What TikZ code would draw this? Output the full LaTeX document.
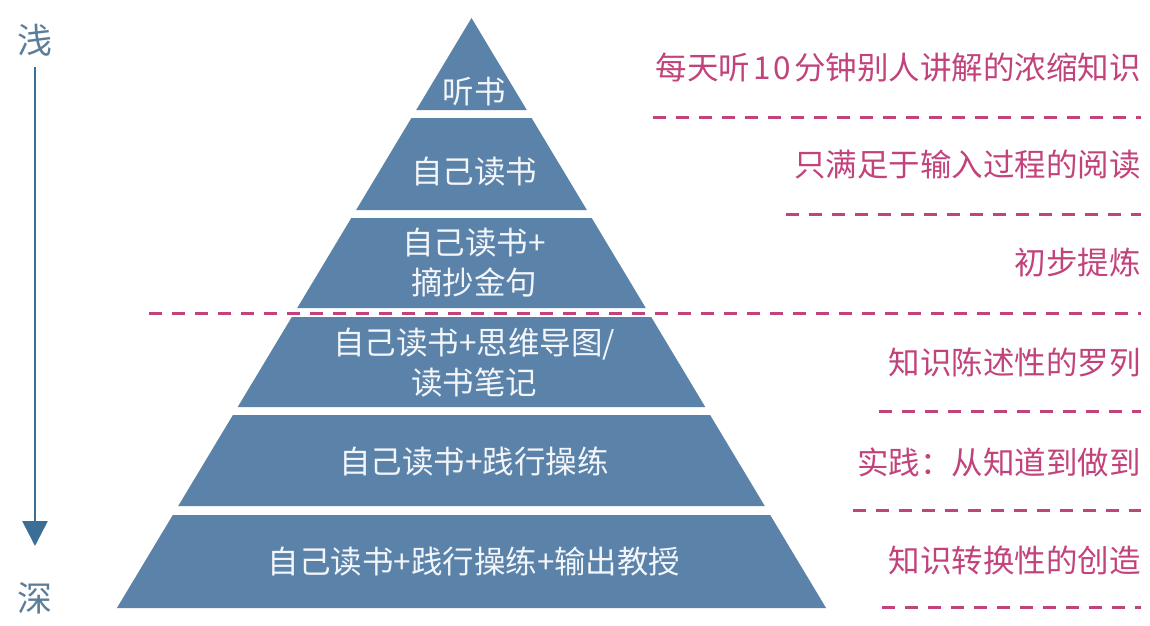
\documentclass[tikz,border=0pt]{standalone}
\usepackage{fontspec}
\setmainfont{Noto Sans CJK SC}
\usetikzlibrary{arrows.meta}
\definecolor{pyr}{HTML}{5B82A8}
\definecolor{pyrtext}{HTML}{F2F5F9}
\definecolor{pinkc}{HTML}{C2437C}
\definecolor{arrowc}{HTML}{3B6E96}
\definecolor{depthc}{HTML}{5C7D98}
\tikzset{
  layertext/.style={text=pyrtext, font=\fontsize{31.5}{40}\selectfont, inner sep=0pt, align=center},
  desc/.style={text=pinkc, font=\fontsize{31.5}{38}\selectfont, inner sep=0pt, anchor=east},
  sep/.style={draw=pinkc, line width=3pt, dash pattern=on 13pt off 10pt},
  depthlabel/.style={text=depthc, font=\fontsize{35}{40}\selectfont, inner sep=0pt},
}
\begin{document}
\begin{tikzpicture}[x=1pt,y=-1pt]
\useasboundingbox (0,0) rectangle (1150,625);
% pyramid layers
\foreach \t/\b in {18/110,118/210,218/308,317/407,415/506,515/608}{
  \fill[pyr] ({471.5-0.601*(\t-18)},\t) -- ({471.5+0.601*(\t-18)},\t)
    -- ({471.5+0.601*(\b-18)},\b) -- ({471.5-0.601*(\b-18)},\b) -- cycle;
}
% layer labels
\node[layertext] (l1) at (474,92) {听书};
\node[layertext] (l2) at (474,172) {自己读书};
\node[layertext] (l3) at (474,263) {自己读书+\\摘抄金句};
\node[layertext] (l4) at (474,363) {自己读书+思维导图/\\读书笔记};
\node[layertext] (l5) at (474,462) {自己读书+践行操练};
\node[layertext] (l6) at (474,562) {自己读书+践行操练+输出教授};
% descriptions
\node[desc] (d1) at (1141,67) {每天听\hspace{3pt}1\hspace{3pt}0\hspace{3pt}分钟别人讲解的浓缩知识};
\node[desc] (d2) at (1141,165) {只满足于输入过程的阅读};
\node[desc] (d3) at (1141,263) {初步提炼};
\node[desc] (d4) at (1141,362) {知识陈述性的罗列};
\node[desc] (d5) at (1141,462) {实践：从知道到做到};
\node[desc] (d6) at (1141,560) {知识转换性的创造};
% dashed separators
\coordinate (s1a) at (653,117);  \coordinate (s1b) at (1141,117);
\coordinate (s2a) at (786,214);  \coordinate (s2b) at (1141,214);
\coordinate (s3a) at (149,313);  \coordinate (s3b) at (1141,313);
\coordinate (s4a) at (879,411);  \coordinate (s4b) at (1141,411);
\coordinate (s5a) at (853,510);  \coordinate (s5b) at (1141,510);
\coordinate (s6a) at (882,607);  \coordinate (s6b) at (1141,607);
\foreach \i in {1,...,6}{ \draw[sep] (s\i a) -- (s\i b); }
% depth arrow
\node[depthlabel] (shallow) at (35,40) {浅};
\node[depthlabel] (deep) at (35,598) {深};
\coordinate (astart) at (35,67);
\coordinate (aend) at (35,546);
\draw[arrowc, line width=2.6pt, -{Triangle[length=25pt,width=25pt]}] (astart) -- (aend);
\end{tikzpicture}
\end{document}
